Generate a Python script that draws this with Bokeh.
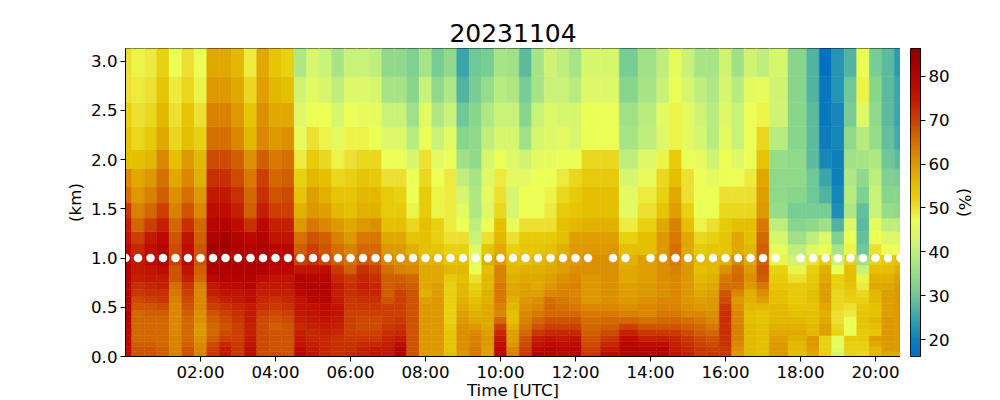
import numpy as np
from bokeh.plotting import figure
from bokeh.layouts import row
from bokeh.models import ColumnDataSource, LinearColorMapper, FixedTicker, Range1d
from bokeh.transform import transform
from bokeh.embed import file_html
from bokeh.resources import INLINE

title_text = "20231104"
x_label = "Time [UTC]"
y_label = "(km)"
bar_label = "(%)"
x_ticks = [2, 4, 6, 8, 10, 12, 14, 16, 18, 20]
x_tick_labels = ["02:00", "04:00", "06:00", "08:00", "10:00", "12:00", "14:00", "16:00", "18:00", "20:00"]
y_ticks = [0, 0.5, 1.0, 1.5, 2.0, 2.5, 3.0]
bar_ticks = [20, 30, 40, 50, 60, 70, 80]
scan_height = 1.0

# profile start, minutes after 00:00
minutes = [0, 20, 40, 60, 80, 100, 120, 140, 160, 180, 200, 220, 240, 260, 280, 300, 320, 340, 360, 380,
           400, 420, 440, 460, 480, 500, 520, 540, 560, 580, 600, 620, 640, 660, 680, 700, 720, 740,
           780, 800, 840, 860, 880, 900, 920, 940, 960, 980, 1000, 1020, 1040,
           1080, 1100, 1120, 1140, 1160, 1180, 1200, 1220, 1240]

# height bin edges, km, bottom to top
z_edges = [0, .051, .102, .153, .214, .276, .337, .403, .469, .541, .607, .679, .755, .837, .929, 1.031,
           1.143, 1.268, 1.405, 1.558, 1.728, 1.908, 2.102, 2.334, 2.579, 2.84, 3.133]

# relative humidity (%), top bin first
rh_26 = [50,48,49,52,47,50,47,58,58,56,49,58,54,52,38,43,41,37,41,41,40,34,34,32,37,31,34,25,30,31,37,36,28,37,42,40,37,43,43,31,36,40,46,41,37,37,42,36,42,40,43,33,27,16,23,27,47,31,28,24]
rh_25 = [50,49,50,54,49,51,48,60,60,58,51,59,56,55,42,45,43,40,44,44,43,37,37,33,41,34,38,27,31,35,39,38,31,37,41,41,39,44,44,33,37,41,47,43,40,38,43,39,45,46,42,33,27,18,23,30,48,33,28,25]
rh_24 = [52,50,51,56,50,54,50,63,63,60,54,61,58,58,44,47,47,43,47,46,46,41,41,36,45,38,41,30,33,38,41,41,33,41,44,43,43,47,47,36,39,45,48,45,42,39,44,41,47,48,42,33,28,18,21,31,44,34,28,25]
rh_23 = [54,51,53,58,51,55,52,65,65,62,56,62,60,61,46,50,48,45,48,48,47,44,44,39,47,41,45,33,34,40,43,43,36,43,44,45,43,47,47,37,40,44,48,45,43,39,45,41,47,51,39,33,28,19,21,34,39,35,29,26]
rh_22 = [55,55,56,62,55,60,56,69,69,67,61,67,64,65,49,53,51,48,50,51,51,47,47,43,50,45,47,36,34,43,47,44,42,45,46,47,47,51,51,40,44,48,53,47,46,42,47,44,47,54,35,34,28,21,20,36,37,38,30,28]
rh_21 = [62,58,60,65,58,62,57,72,72,69,64,70,66,67,52,56,55,51,52,54,53,50,50,47,51,47,49,40,37,44,49,45,45,47,47,49,51,53,53,43,46,51,55,50,47,45,47,47,49,58,34,34,30,25,20,38,34,40,32,31]
rh_20 = [65,60,63,67,61,65,60,75,75,72,66,72,68,69,54,59,57,54,54,56,56,53,52,47,53,48,49,43,38,45,50,43,47,47,48,51,53,55,55,45,49,52,58,50,47,47,50,50,50,59,34,33,30,27,21,39,32,41,33,33]
rh_19 = [71,63,66,70,63,68,62,77,77,74,67,74,70,70,57,60,59,56,55,57,57,53,53,48,53,48,49,45,38,44,51,43,47,47,49,53,54,55,55,45,50,54,59,52,47,47,51,51,51,60,35,31,31,31,22,38,29,41,35,34]
rh_18 = [74,66,70,74,66,72,66,79,80,77,72,78,74,74,60,64,62,60,58,60,61,55,55,51,55,52,49,47,40,47,55,46,50,50,50,55,56,57,57,49,52,58,63,55,48,50,53,55,55,64,40,33,34,36,27,44,28,46,40,40]
rh_17 = [76,70,75,78,68,76,67,81,83,80,78,80,76,76,65,68,67,63,60,64,64,58,58,54,55,52,50,50,41,50,56,50,53,53,53,55,59,59,59,52,55,60,64,58,51,52,54,58,55,66,43,36,40,44,32,47,29,47,44,44]
rh_16 = [78,73,77,80,69,77,68,83,84,81,80,81,79,79,67,70,68,65,63,66,66,60,60,57,55,54,52,52,44,54,58,52,54,54,55,57,60,60,60,55,55,60,65,58,53,54,54,58,56,67,46,40,44,47,37,48,30,50,47,47]
rh_15 = [80,75,78,80,70,78,68,82,83,81,81,81,80,80,70,72,70,67,65,68,67,62,61,61,57,57,54,55,46,57,60,55,55,56,57,59,60,61,61,57,59,61,64,60,56,56,57,62,58,67,48,42,50,53,41,52,36,52,53,55]
rh_14 = [80,75,76,77,68,76,67,81,81,81,81,81,78,78,76,76,77,71,67,72,70,65,63,62,58,58,56,56,47,55,63,56,57,57,58,59,61,61,61,58,59,61,63,60,55,56,61,65,60,68,52,48,52,57,47,55,41,55,55,57]
rh_13 = [80,74,75,75,68,74,66,78,80,80,80,77,76,76,80,79,79,73,71,73,72,67,67,66,58,58,53,55,50,56,63,57,58,58,59,61,62,60,61,58,59,61,62,60,56,57,64,66,61,67,53,50,53,58,52,55,48,57,57,59]
rh_12 = [80,72,73,74,65,71,63,75,77,78,79,75,75,75,80,80,80,75,72,74,73,67,68,67,58,59,52,56,52,56,64,58,59,58,60,62,63,60,61,59,60,61,62,60,57,58,65,65,60,64,54,53,54,59,52,54,49,58,58,60]
rh_11 = [80,71,72,72,64,70,62,74,76,76,77,74,74,74,78,79,80,74,72,73,73,67,70,68,57,59,52,56,53,57,64,58,59,59,62,63,62,60,61,59,60,61,62,60,58,59,68,62,57,61,55,53,55,59,51,53,51,56,59,60]
rh_10 = [80,69,70,71,63,69,62,72,74,75,77,73,72,73,76,78,79,75,71,72,72,68,70,68,59,60,52,57,55,57,64,57,60,61,65,64,63,60,61,60,61,62,62,60,59,60,69,60,57,59,55,53,55,59,51,52,52,56,59,60]
rh_09 = [80,68,68,69,62,68,62,70,72,73,75,72,71,72,76,76,78,76,71,71,71,70,70,68,60,60,52,58,56,58,63,56,61,62,66,65,64,62,62,61,62,63,63,61,60,60,71,61,56,56,56,54,54,58,51,50,53,55,59,60]
rh_08 = [80,66,67,67,62,67,61,68,70,72,75,70,69,70,75,76,77,76,70,70,70,70,70,68,60,60,52,59,57,58,62,55,62,64,66,66,66,64,64,63,62,64,64,62,62,61,72,62,55,54,56,55,55,57,50,49,54,55,59,60]
rh_07 = [79,66,66,66,62,66,61,67,69,71,75,69,68,69,74,75,76,75,70,69,69,70,71,68,60,60,52,60,58,58,66,55,63,66,68,68,68,65,66,66,65,66,66,65,64,62,72,62,55,54,56,56,55,58,50,47,54,56,60,60]
rh_06 = [79,66,66,66,62,66,60,66,68,70,74,69,67,68,73,74,75,74,70,69,69,71,72,68,60,60,53,61,60,58,70,57,64,68,70,70,70,66,67,70,68,68,68,67,66,64,72,63,56,55,57,57,56,59,51,47,54,55,60,60]
rh_05 = [78,66,66,66,62,66,60,66,69,70,74,69,68,68,74,73,74,73,70,70,70,72,73,68,60,60,54,61,62,59,73,59,66,71,73,73,73,67,69,74,71,71,71,69,67,66,72,63,56,55,58,58,56,59,52,47,53,54,60,60]
rh_04 = [78,66,66,66,63,66,61,67,70,70,75,69,68,68,75,73,73,72,71,71,71,73,75,68,60,60,54,61,63,60,75,59,68,74,76,75,76,68,71,77,74,74,73,71,69,68,72,63,56,55,59,57,60,52,46,53,53,59,60,60]
rh_03 = [78,67,67,66,63,67,62,69,73,71,76,69,68,68,76,74,73,72,72,73,73,74,77,68,60,60,54,61,63,60,77,60,69,76,78,77,78,69,73,79,77,77,74,72,70,69,72,62,56,55,60,56,60,52,46,52,52,58,60,60]
rh_02 = [77,68,68,67,63,68,62,70,75,71,77,69,68,68,78,75,73,72,72,74,75,75,79,68,60,60,54,61,64,59,78,62,70,78,79,78,79,70,75,80,79,80,75,73,71,70,71,61,56,55,60,56,59,52,45,52,52,56,60,60]
rh_01 = [77,68,68,67,63,68,63,71,76,71,77,69,69,68,79,76,73,72,73,74,76,75,80,68,60,59,55,60,64,59,79,63,71,80,80,78,79,71,78,80,80,80,76,74,71,71,71,60,56,55,60,55,58,52,43,52,51,56,58,58]

rows_bottom_up = [rh_01, rh_02, rh_03, rh_04, rh_05, rh_06, rh_07, rh_08, rh_09, rh_10, rh_11, rh_12, rh_13,
                  rh_14, rh_15, rh_16, rh_17, rh_18, rh_19, rh_20, rh_21, rh_22, rh_23, rh_24, rh_25, rh_26]

# colour scale
vmin, vmax = 16.2, 86.3
stops_v = [16, 20, 24, 27, 30, 33, 37, 41, 44, 47, 50, 52, 55, 58, 61, 64, 67, 70, 72, 74, 78, 82, 87]
stops_c = ["#0070c4", "#1080bc", "#2f9db0", "#52b4a0", "#70c898", "#88d58c", "#a8e585", "#c8f278", "#def868",
           "#ecff55", "#eee030", "#e8d010", "#e4c000", "#e0a800", "#dc9000", "#d87800", "#d06000", "#cc4000",
           "#c83000", "#c42000", "#bc0800", "#ac0000", "#880000"]
rgb = np.array([[int(c[i:i + 2], 16) for i in (1, 3, 5)] for c in stops_c])
lv = np.linspace(vmin, vmax, 256)
palette = ["#%02x%02x%02x" % tuple(int(round(np.interp(v, stops_v, rgb[:, j]))) for j in range(3)) for v in lv]
mapper = LinearColorMapper(palette=palette, low=vmin, high=vmax)

hours = np.array(minutes) / 60.0
mid = (hours[1:] + hours[:-1]) / 2
x_edges = np.concatenate([[hours[0] - (hours[1] - hours[0]) / 2], mid, [hours[-1] + (hours[-1] - hours[-2]) / 2]])

L, R, B, T, V = [], [], [], [], []
for j, vals in enumerate(rows_bottom_up):
    assert len(vals) == len(hours), (j, len(vals))
    for i, v in enumerate(vals):
        L.append(x_edges[i]); R.append(x_edges[i + 1]); B.append(z_edges[j]); T.append(z_edges[j + 1]); V.append(v)
src = ColumnDataSource(dict(left=L, right=R, bottom=B, top=T, v=V))

FONT = "DejaVu Sans"
TICK = "16.67px"


def style_axis(ax):
    ax.major_label_text_font = FONT
    ax.major_label_text_font_size = TICK
    ax.major_label_text_color = "black"
    ax.axis_label_text_font = FONT
    ax.axis_label_text_font_size = TICK
    ax.axis_label_text_font_style = "normal"
    ax.axis_label_text_color = "black"
    ax.major_tick_out = 5
    ax.major_tick_in = 0
    ax.minor_tick_line_color = None
    ax.major_tick_line_color = "black"
    ax.axis_line_color = "black"


p = figure(width=900, height=400, frame_width=775, frame_height=308, min_border_left=125, min_border_right=0,
           min_border_top=48, min_border_bottom=44, x_range=Range1d(0, 20.667), y_range=Range1d(0, 3.127),
           toolbar_location=None, output_backend="svg", title=title_text)
p.title.align = "center"
p.title.text_font = FONT
p.title.text_font_size = "25px"
p.title.text_font_style = "normal"
p.title.text_color = "black"
p.title.standoff = 13
p.grid.visible = False
p.outline_line_color = "black"
p.outline_line_width = 1
p.quad(left="left", right="right", bottom="bottom", top="top", source=src,
       fill_color=transform("v", mapper), line_color=transform("v", mapper), line_width=0.5)
p.scatter(hours, [scan_height] * len(hours), marker="circle", size=8.5, fill_color="white", line_color="white", line_width=0)
p.xaxis.ticker = FixedTicker(ticks=x_ticks)
p.xaxis.major_label_overrides = {t: s for t, s in zip(x_ticks, x_tick_labels)}
p.xaxis.axis_label = x_label
p.xaxis.axis_label_standoff = -4
p.xaxis.major_label_standoff = 1
p.yaxis.ticker = FixedTicker(ticks=y_ticks)
p.yaxis.major_label_overrides = {t: "%.1f" % t for t in y_ticks}
p.yaxis.axis_label = y_label
p.yaxis.axis_label_standoff = 3
p.yaxis.major_label_standoff = 3
style_axis(p.xaxis[0])
style_axis(p.yaxis[0])

c = figure(width=92, height=400, frame_width=10, frame_height=308, min_border_left=10, min_border_right=0,
           min_border_top=48, min_border_bottom=44, x_range=Range1d(0, 1), y_range=Range1d(vmin, vmax),
           toolbar_location=None, output_backend="svg", y_axis_location="right")
c.grid.visible = False
c.xaxis.visible = False
c.outline_line_color = "black"
c.outline_line_width = 1
c.image(image=[lv.reshape(-1, 1)], x=0, y=vmin, dw=1, dh=vmax - vmin, color_mapper=mapper)
c.yaxis.ticker = FixedTicker(ticks=bar_ticks)
c.yaxis.axis_label = bar_label
c.yaxis.axis_label_standoff = 2
c.yaxis.major_label_standoff = 3
style_axis(c.yaxis[0])

open("out.html", "w").write(file_html(row(p, c, spacing=0), INLINE))
